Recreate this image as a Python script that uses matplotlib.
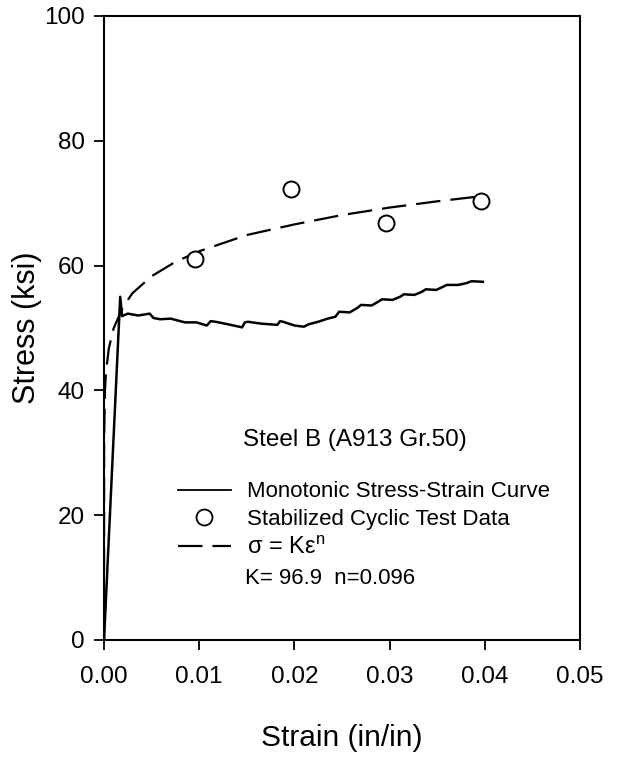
import matplotlib
matplotlib.use("Agg")
import matplotlib.pyplot as plt
from matplotlib.lines import Line2D

plt.rcParams['font.family'] = ['Liberation Sans', 'DejaVu Sans']
plt.rcParams['mathtext.fontset'] = 'custom'
plt.rcParams['mathtext.rm'] = 'Liberation Sans'

# monotonic stress-strain curve
mono_strain = [0.0, 0.0017, 0.0019, 0.0025, 0.0036, 0.0048, 0.0052, 0.0059, 0.0070,
               0.0080, 0.0085, 0.0097, 0.0108, 0.0112, 0.0117, 0.0130, 0.0145,
               0.0148, 0.0151, 0.0165, 0.0182, 0.0185, 0.0188, 0.0200, 0.0210,
               0.0215, 0.0225, 0.0235, 0.0243, 0.0247, 0.0258, 0.0266, 0.0270,
               0.0281, 0.0288, 0.0292, 0.0303, 0.0311, 0.0315, 0.0326, 0.0334,
               0.0338, 0.0349, 0.0356, 0.0360, 0.0372, 0.0381, 0.0386, 0.0398]
mono_stress = [0.0, 55.0, 51.9, 52.3, 52.0, 52.3, 51.6, 51.4, 51.5,
               51.1, 50.9, 50.9, 50.4, 51.1, 51.0, 50.6, 50.1,
               50.9, 51.0, 50.7, 50.5, 51.1, 51.0, 50.4, 50.2,
               50.6, 51.0, 51.5, 51.8, 52.6, 52.5, 53.2, 53.7,
               53.6, 54.2, 54.6, 54.5, 55.0, 55.4, 55.3, 55.8,
               56.2, 56.1, 56.6, 56.9, 56.9, 57.2, 57.5, 57.4]

# stabilized cyclic test data
cyc_strain = [0.0096, 0.0196, 0.0296, 0.0396]
cyc_stress = [61.0, 72.3, 66.8, 70.4]

# fitted curve sigma = K eps^n
fit_strain = [0.0, 0.00001, 0.0001, 0.0002, 0.0005, 0.001, 0.002, 0.003, 0.005,
              0.0075, 0.01, 0.015, 0.02, 0.025, 0.03, 0.035, 0.0395]
fit_stress = [0.0, 32.0, 40.0, 42.8, 46.7, 49.9, 53.4, 55.6, 58.3,
              60.6, 62.3, 64.9, 66.6, 68.1, 69.3, 70.3, 71.1]

fig = plt.figure(figsize=(6.24, 7.58), dpi=100)
ax = fig.add_axes([0.1667, 0.1557, 0.7628, 0.8232])

ax.plot(mono_strain, mono_stress, color="black", lw=1.8)
ax.plot(fit_strain, fit_stress, color="black", lw=1.6, linestyle=(0, (11, 4.5)))
ax.plot(cyc_strain, cyc_stress, linestyle="none", marker="o", markersize=11.5,
        markerfacecolor="white", markeredgecolor="black", markeredgewidth=1.4)

ax.set_xlim(0, 0.05)
ax.set_ylim(0, 100)
ax.set_xticks([0.0, 0.01, 0.02, 0.03, 0.04, 0.05])
ax.set_xticklabels(["0.00", "0.01", "0.02", "0.03", "0.04", "0.05"])
ax.set_yticks([0, 20, 40, 60, 80, 100])
ax.tick_params(direction="out", length=7, width=1.3, labelsize=17.5)
ax.tick_params(axis="x", pad=12)
ax.tick_params(axis="y", pad=7)
for s in ax.spines.values():
    s.set_linewidth(1.5)

ax.set_xlabel("Strain (in/in)", fontsize=21.5, labelpad=26)
ax.set_ylabel("Stress (ksi)", fontsize=22, labelpad=1)

ax.text(0.292, 0.32, "Steel B (A913 Gr.50)", transform=ax.transAxes,
        fontsize=17.5, va="center", ha="left")

handles = [
    Line2D([], [], color="black", lw=1.3),
    Line2D([], [], linestyle="none", marker="o", markersize=11.5,
           markerfacecolor="white", markeredgecolor="black", markeredgewidth=1.3),
    Line2D([], [], color="black", lw=1.6, linestyle=(0, (11, 4.5))),
]
labels = ["Monotonic Stress-Strain Curve", "Stabilized Cyclic Test Data",
          r"$\mathregular{\sigma}$ = K$\mathregular{\varepsilon^n}$"]
leg = ax.legend(handles, labels, loc="upper left", bbox_to_anchor=(0.155, 0.254),
                frameon=False, fontsize=16, handlelength=2.4, handletextpad=0.7,
                labelspacing=0.3, borderpad=0, borderaxespad=0)
leg.get_texts()[2].set_fontsize(17)

ax.text(0.296, 0.098, "K= 96.9  n=0.096", transform=ax.transAxes,
        fontsize=16, va="center", ha="left")

fig.savefig("out.png", dpi=100)
